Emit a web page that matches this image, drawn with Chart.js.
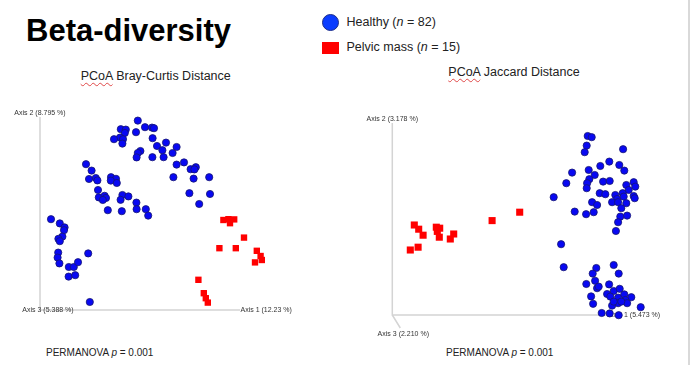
<!DOCTYPE html>
<html>
<head>
<meta charset="utf-8">
<script src="https://cdn.jsdelivr.net/npm/chart.js@4.4.1/dist/chart.umd.min.js"></script>
<style>
  body { margin: 0; width: 693px; height: 365px; background: #fff; overflow: hidden; position: relative;
         font-family: "Liberation Sans", Arial, sans-serif; color: #111; }
  .abs { position: absolute; white-space: nowrap; }
  #title { left: 26px; top: 14.5px; font: bold 31px/31px "Liberation Sans", Arial, sans-serif; color: #000; }
  .leg { font-size: 12.5px; line-height: 16px; left: 346.5px; color: #222; }
  .sub { font-size: 12.5px; line-height: 16px; color: #222; }
  .sp { text-decoration: underline wavy #e04848; text-decoration-thickness: 1px; text-underline-offset: 2px; }
  .perm { font-size: 10px; line-height: 14px; top: 346px; color: #222; }
  canvas { position: absolute; }
</style>
</head>
<body>
<div id="title" class="abs">Beta-diversity</div>
<div class="abs" style="left:322px;top:14px;width:17px;height:17px;box-sizing:border-box;border-radius:50%;background:#0a3cff;border:1px solid #1d2f8a;"></div>
<div class="abs" style="left:322px;top:42px;width:17px;height:12px;background:#ff0000;"></div>
<div class="abs leg" style="top:13.7px">Healthy (<i>n</i> = 82)</div>
<div class="abs leg" style="top:39.3px">Pelvic mass (<i>n</i> = 15)</div>
<div class="abs sub" style="left:80.7px;top:67.7px"><span class="sp">PCoA</span> Bray-Curtis Distance</div>
<div class="abs sub" style="left:448.3px;top:63.7px"><span class="sp">PCoA</span> Jaccard Distance</div>
<div class="abs perm" style="left:46px">PERMANOVA <i>p</i> = 0.001</div>
<div class="abs perm" style="left:446px">PERMANOVA <i>p</i> = 0.001</div>
<div class="abs" style="left:688px;top:0;width:1.5px;height:365px;background:#d9d9d9;"></div>

<canvas id="bray" width="300" height="230" style="left:0;top:100px"></canvas>
<canvas id="jaccard" width="343" height="250" style="left:350px;top:100px"></canvas>

<script>
// PCoA scores (units: % of the plotted axis length)
var brayHealthy = [
  [48.9,94.7],[52.5,91.4],[56,91.2],[57,90.9],[40.4,90.4],[42.9,90.2],[42.4,88.5],[40,86.2],
  [37,85.4],[41.5,85.4],[41.2,83.2],[48,88.9],[56.3,85.9],[63,83.7],[58.5,82],[68.3,81.5],
  [61.2,79.9],[66.3,78.5],[50.2,79.5],[48.9,78.5],[48.3,76.3],[56.2,76.4],[61.8,76.4],[68.3,72.7],
  [72,73.8],[75.3,70.4],[77.9,71.4],[77.2,70.3],[66.7,66.4],[76.8,65.7],[84.6,66.4],[74.7,58.4],
  [85,58],[79.6,53],
  [23,72.9],[25.8,69.7],[24.5,65.5],[27.9,66],[28.7,64.8],[35.5,66.4],[38,65.6],[35.4,64.7],
  [38.4,63.5],[29,60],[29.4,56.3],[32.3,57.1],[33,56],[31.4,55],[41.2,57.5],[44.2,56.8],
  [40.3,55.1],[48.2,53.7],[48.3,50.4],[52.9,50.4],[54.1,47.2],[33.9,49.9],[40.9,49.4],
  [5.5,45.4],[9.9,43.3],[12.3,41.3],[12,39.9],[11.2,36.7],[9.2,35.6],[9.9,34.4],[9.1,28.7],
  [8.8,26.2],[9.7,23.3],[14.4,21.5],[16.9,21.5],[19,23.9],[24.1,28.3],[14.3,16.7],[17.6,17.4],
  [24.9,4]
];
var brayPelvic = [
  [91.7,45],[94.2,45.4],[97.1,45.3],[95,43.4],[102,36.2],[89.7,30.9],[97.9,30.9],[108.4,29.6],
  [110.3,27],[110.9,25],[107.5,23.8],[79.2,15.1],[81.9,8.4],[82.9,5.9],[83.9,3.7]
];
var jaccardHealthy = [
  [97.7,89.5],[99.7,88.9],[97.2,84.7],[96.2,81.4],[115.4,82.9],[108.5,76.7],[104,74.5],[113.5,75],
  [116,72.2],[89.9,71.2],[98.2,72.5],[101.2,70],[98.5,67.9],[87,65.9],[97.4,65.9],[97.2,63.4],
  [105.4,66.7],[108.7,67],[117,65],[120.7,66.4],[121.5,64.2],[118.2,62.5],[115.2,60.9],[80.7,58.9],
  [103.7,60.9],[106.5,60.4],[111.5,60],[112.4,58],[115.7,59.2],[120.7,59.5],[121.2,58.4],[109.9,56.4],
  [112.9,56.4],[117,55.9],[99.9,56.4],[102.4,55],[91.2,51.7],[96.9,50.4],[100.7,51.4],[114.5,53.4],
  [114,49.2],[117.4,49.7],[112.9,46.4],[111.8,42],
  [84.4,35.4],[85.7,23.9],[102,23.5],[110.7,25],[100.2,20.7],[113.2,20.7],[101.4,17.1],[97,15.5],
  [102.4,13.4],[103.2,14.2],[108.4,15.3],[110.7,12],[113.7,13.1],[107.4,10.5],[109,9.2],[112.9,8.7],
  [116,10.3],[119.5,8.9],[116.5,7.5],[99.4,9.3],[100.4,5.6],[109.9,4.7],[112.9,5.9],[117.4,5.9],
  [124.2,3.9],[104.7,1],[108.7,0.8],[113.2,-0.1],[110.7,6.7],[114.5,6.7]
];
var jaccardPelvic = [
  [11,45],[13.2,42.9],[15.4,39.9],[22,43.9],[23.7,43.4],[22.5,41.8],[23.5,38.9],[30.7,40.5],
  [29,38],[9,32.5],[12.9,33.9],[49.9,47.2],[63.7,51.4]
];
var brayAxes = ['Axis 1 (12.23 %)', 'Axis 2 (8.795 %)', 'Axis 3 (5.388 %)'];
var jaccardAxes = ['Axis 1 (5.473 %)', 'Axis 2 (3.178 %)', 'Axis 3 (2.210 %)'];

// draws the three PCoA axes (behind the points)
var pcoaAxes = {
  id: 'pcoaAxes',
  beforeDatasetsDraw: function (chart, args, o) {
    var ctx = chart.ctx, sx = chart.scales.x, sy = chart.scales.y;
    var X = function (v) { return sx.getPixelForValue(v); };
    var Y = function (v) { return sy.getPixelForValue(v); };
    ctx.save();
    ctx.strokeStyle = '#d4d4d4';
    ctx.lineWidth = 1.5;
    ctx.beginPath();
    ctx.moveTo(X(0), Y(o.top));
    ctx.lineTo(X(0), Y(0));
    ctx.lineTo(X(o.right), Y(0));
    ctx.moveTo(X(0), Y(0));
    ctx.lineTo(X(o.depth[0]), Y(o.depth[1]));
    ctx.stroke();
    ctx.font = '7px "Liberation Sans", Arial, sans-serif';
    ctx.fillStyle = '#333';
    ctx.textBaseline = 'middle';
    ctx.textAlign = 'center';
    ctx.fillText(o.labels[1], X(0), Y(o.top) - 3.5);
    ctx.fillText(o.labels[2], X(o.depthLabel[0]), Y(o.depthLabel[1]));
    ctx.textAlign = 'left';
    ctx.fillText(o.labels[0], X(o.right) + 0.5, Y(0));
    ctx.restore();
  }
};

function pcoaChart(id, healthy, pelvic, axes, sq, xr, yr) {
  var ctx = document.getElementById(id).getContext('2d');
  return new Chart(ctx, {
    type: 'scatter',
    data: {
      datasets: [{
        label: 'Healthy',
        data: healthy.map(function (p) { return {x: p[0], y: p[1]}; }),
        pointStyle: 'circle',
        pointRadius: 3.6,
        backgroundColor: '#0808f2',
        borderColor: '#161670',
        borderWidth: 0.8,
        clip: false
      }, {
        label: 'Pelvic mass',
        data: pelvic.map(function (p) { return {x: p[0], y: p[1]}; }),
        pointStyle: 'rect',
        pointRadius: sq,
        backgroundColor: '#ff0000',
        borderWidth: 0,
        clip: false
      }]
    },
    options: {
      responsive: false,
      animation: false,
      events: [],
      layout: { padding: 0, autoPadding: false },
      scales: {
        x: { type: 'linear', display: false, min: xr[0], max: xr[1] },
        y: { type: 'linear', display: false, min: yr[0], max: yr[1] }
      },
      plugins: {
        legend: { display: false },
        tooltip: { enabled: false },
        pcoaAxes: axes
      }
    },
    plugins: [pcoaAxes]
  });
}

pcoaChart('bray', brayHealthy, brayPelvic,
  { labels: brayAxes, top: 96.5, right: 100, depth: [0, 0], depthLabel: [4, 0] },
  4.5, [-20, 130], [-10, 105]);

pcoaChart('jaccard', jaccardHealthy, jaccardPelvic,
  { labels: jaccardAxes, top: 96, right: 108, depth: [4, -6.5], depthLabel: [5.5, -9.5] },
  5, [-21.15, 150.35], [-17.5, 107.5]);
</script>
</body>
</html>
